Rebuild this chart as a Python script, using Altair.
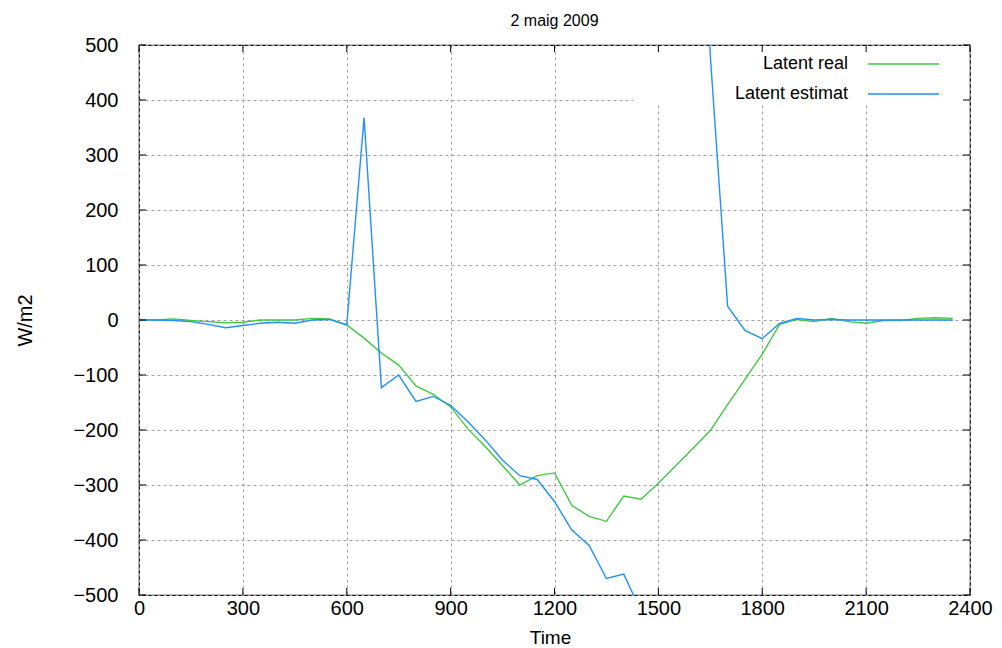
import altair as alt
import pandas as pd

# ---- data ----
times = [0, 50, 100, 150, 200, 250, 300, 350, 400, 450, 500, 550,
         600, 650, 700, 750, 800, 850, 900, 950, 1000, 1050, 1100, 1150,
         1200, 1250, 1300, 1350, 1400, 1450, 1500, 1550, 1600, 1650, 1700, 1750,
         1800, 1850, 1900, 1950, 2000, 2050, 2100, 2150, 2200, 2250, 2300, 2350]

latent_real = [0, 0, 2, -1, -3, -5, -4, 0, 0, 0, 3, 2,
               -9, -33, -60, -82, -120, -135, -158, -198, -230, -265, -300, -283,
               -278, -337, -357, -366, -320, -326, -297, -265, -233, -201, -154, -108,
               -62, -8, 1, -3, 3, -3, -6, -1, -1, 3, 4, 3]

latent_estimat = [0, 0, -1, -3, -8, -14, -10, -6, -4, -6, 0, 1,
                  -9, 368, -123, -100, -148, -139, -155, -185, -218, -255, -283, -290,
                  -330, -382, -410, -470, -462, -530, None, None, 1200, 480, 25, -19,
                  -34, -6, 3, 0, 1, 0, 0, 0, 0, 0, 0, 0]

series_names = ["Latent real", "Latent estimat"]
series_colors = ["#3ec93e", "#1e90ff"]

x_ticks = [0, 300, 600, 900, 1200, 1500, 1800, 2100, 2400]
y_ticks = [-500, -400, -300, -200, -100, 0, 100, 200, 300, 400, 500]

title_text = "2 maig 2009"
x_title = "Time"
y_title = "W/m2"

# ---- build tables ----
rows = []
for t, r in zip(times, latent_real):
    rows.append({"time": t, "value": r, "series": series_names[0], "seg": "r"})
seg = 0
for t, e in zip(times, latent_estimat):
    if e is None:
        seg += 1
        continue
    rows.append({"time": t, "value": e, "series": series_names[1], "seg": f"e{seg}"})
df = pd.DataFrame(rows)

W, H = 831, 550
FONT = "Liberation Sans"

xscale = alt.Scale(domain=[0, 2400], nice=False, zero=False)
yscale = alt.Scale(domain=[-500, 500], nice=False, zero=False)

X = alt.X("time:Q", scale=xscale, title=x_title,
          axis=alt.Axis(values=x_ticks, format="d", labelFlush=False,
                        titleX=411, titleY=42, titleBaseline="middle", titleAlign="center"))
Y = alt.Y("value:Q", scale=yscale, title=y_title,
          axis=alt.Axis(values=y_ticks, format="d", labelFlush=False,
                        titleX=-114, titleY=275, titleAngle=-90, titleFontSize=20,
                        titleBaseline="middle", titleAlign="center"))

lines = alt.Chart(df).mark_line(clip=True, strokeWidth=1.4).encode(
    x=X, y=Y,
    color=alt.Color("series:N", scale=alt.Scale(domain=series_names, range=series_colors), legend=None),
    detail="seg:N",
    order=alt.Order("time:Q"),
)

# white box behind the key (hides grid there)
keybox = alt.Chart(pd.DataFrame({"k": [0]})).mark_rect(color="white").encode(
    x=alt.value(494), x2=alt.value(830), y=alt.value(1), y2=alt.value(60)
)

# inward tick marks on all four borders
xt = pd.DataFrame({"time": x_ticks})
yt = pd.DataFrame({"value": y_ticks})
tick_b = alt.Chart(xt).mark_rule(color="black").encode(x=X, y=alt.value(H), y2=alt.value(H - 7))
tick_t = alt.Chart(xt).mark_rule(color="black").encode(x=X, y=alt.value(0), y2=alt.value(7))
tick_l = alt.Chart(yt).mark_rule(color="black").encode(y=Y, x=alt.value(0), x2=alt.value(7))
tick_r = alt.Chart(yt).mark_rule(color="black").encode(y=Y, x=alt.value(W), x2=alt.value(W - 7))

# key
key_layers = []
key_y = [19, 49]
for name, col, ky in zip(series_names, series_colors, key_y):
    kd = pd.DataFrame({"name": [name]})
    key_layers.append(
        alt.Chart(kd).mark_text(align="right", baseline="middle", font=FONT, fontSize=18, color="black").encode(
            text="name:N", x=alt.value(709), y=alt.value(ky))
    )
    key_layers.append(
        alt.Chart(kd).mark_rule(color=col, strokeWidth=1.4).encode(
            x=alt.value(729), x2=alt.value(800), y=alt.value(ky))
    )

chart = alt.layer(keybox, lines, tick_b, tick_t, tick_l, tick_r, *key_layers).properties(
    width=W, height=H,
    title=alt.TitleParams(title_text, fontSize=16, fontWeight="normal", font=FONT, color="black", offset=6),
    padding={"left": 131, "top": 37, "right": 24, "bottom": 52},
    autosize=alt.AutoSizeParams(type="none"),
).configure_view(
    stroke="black", strokeWidth=1.2
).configure_axis(
    domain=False, ticks=False, grid=True,
    gridColor="#a0a0a0", gridDash=[3, 3], gridWidth=1,
    labelFont=FONT, labelFontSize=20, labelColor="black",
    titleFont=FONT, titleFontSize=19, titleFontWeight="normal", titleColor="black",
).configure_axisX(
    labelPadding=3
).configure_axisY(
    labelPadding=21
)

chart.save("out.html", embed_options={"renderer": "svg", "actions": False})
